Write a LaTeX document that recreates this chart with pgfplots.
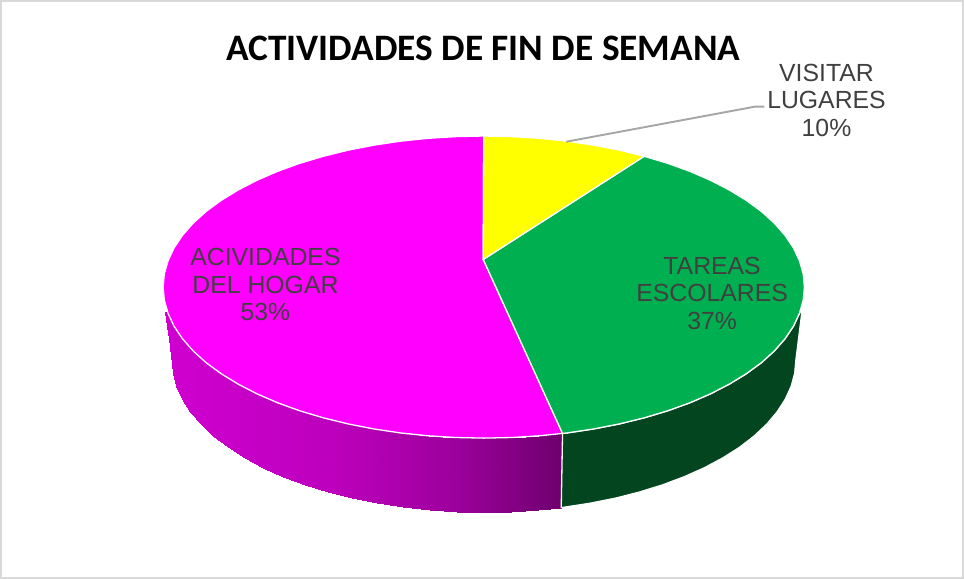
\documentclass[border=0pt]{standalone}
\usepackage{pgfplots}
\pgfplotsset{compat=1.18}
\usepackage{fontspec}
\setmainfont{Liberation Sans}
\newfontfamily\titlefont{Carlito}
\definecolor{lab}{HTML}{404040}
\definecolor{pgreen}{HTML}{00B050}
\definecolor{dgreen}{HTML}{02451F}
\definecolor{pmag}{HTML}{FF00FF}
\definecolor{pyel}{HTML}{FFFF00}
\begin{document}
\begin{tikzpicture}
\begin{axis}[
  scale only axis, width=964pt, height=580pt,
  xmin=-0.8, xmax=963.2, ymin=-1.5, ymax=578.5, zmin=-1, zmax=1,
  y dir=reverse, view={0}{90}, hide axis, clip=false,
  point meta min=166, point meta max=563,
  colormap={sidemag}{rgb255(0)=(208,0,208) rgb255(170)=(188,0,188) rgb255(290)=(156,0,156) rgb255(397)=(110,0,110)},
]
% outer frame
\addplot[draw=black!15, line width=2pt] coordinates {(3.5,2.5) (962,2.5) (962,577) (3.5,577)} --cycle;
% side of the magenta slice
\addplot3[surf, shader=interp, mesh/rows=2, point meta=x] coordinates {
(166.5,312,0) (167.5,312.5,0) (169.9,313.6,0) (175.9,326.5,0) (184.3,339,0) (194.9,351.1,0) (207.8,362.8,0) (222.8,373.8,0) (239.8,384.2,0) (258.6,393.9,0) (279.1,402.8,0) (301.2,410.8,0) (324.7,417.8,0) (349.5,423.9,0) (375.2,428.9,0) (401.8,432.9,0) (429,435.7,0) (456.6,437.4,0) (484.5,438,0) (512.4,437.4,0) (540,435.7,0) (563,433.3,0)
(173.5,360,0) (174.7,373.3,0) (178.2,386.4,0) (184.1,399.3,0) (192.3,412,0) (202.6,424.2,0) (215.2,436,0) (229.7,447.2,0) (246.3,457.7,0) (264.6,467.5,0) (284.6,476.4,0) (306.1,484.5,0) (329,491.6,0) (353.1,497.8,0) (378.1,502.8,0) (404,506.8,0) (430.5,509.7,0) (457.4,511.4,0) (484.5,512,0) (511.6,511.4,0) (538.5,509.7,0) (561.7,507.2,0)
};
% side of the green slice
\addplot[fill=dgreen, draw=white, line width=1.3pt] coordinates {
(563,433.3) (567.2,432.9) (593.8,428.9) (619.5,423.9) (644.3,417.8) (667.8,410.8) (689.9,402.8) (710.4,393.9) (729.2,384.2) (746.2,373.8) (761.2,362.8) (774.1,351.1) (784.7,339) (793.1,326.5) (799.1,313.6) (802,308)
(795.5,360) (794.3,373.3) (790.8,386.4) (784.9,399.3) (776.7,412) (766.4,424.2) (753.8,436) (739.3,447.2) (722.7,457.7) (704.4,467.5) (684.4,476.4) (662.9,484.5) (640,491.6) (615.9,497.8) (590.9,502.8) (565,506.8) (561.7,507.2)
} --cycle;
% top: magenta slice (53%)
\addplot[fill=pmag, draw=white, line width=1.3pt] coordinates {
(484,260) (563,433.3) (540,435.7) (512.4,437.4) (484.5,438) (456.6,437.4) (429,435.7) (401.8,432.9) (375.2,428.9) (349.5,423.9) (324.7,417.8) (301.2,410.8) (279.1,402.8) (258.6,393.9) (239.8,384.2) (222.8,373.8) (207.8,362.8) (194.9,351.1) (184.3,339) (175.9,326.5) (169.9,313.6) (166.2,300.6) (165,287.5) (166.2,274.4) (169.9,261.4) (175.9,248.5) (184.3,236) (194.9,223.9) (207.8,212.2) (222.8,201.2) (239.8,190.8) (258.6,181.1) (279.1,172.2) (301.2,164.2) (324.7,157.2) (349.5,151.1) (375.2,146.1) (401.8,142.1) (429,139.3) (456.6,137.6) (484.5,137)
} --cycle;
% top: green slice (37%)
\addplot[fill=pgreen, draw=white, line width=1.3pt] coordinates {
(484,260) (644.3,157.2) (667.8,164.2) (689.9,172.2) (710.4,181.1) (729.2,190.8) (746.2,201.2) (761.2,212.2) (774.1,223.9) (784.7,236) (793.1,248.5) (799.1,261.4) (802.8,274.4) (804,287.5) (802.8,300.6) (799.1,313.6) (793.1,326.5) (784.7,339) (774.1,351.1) (761.2,362.8) (746.2,373.8) (729.2,384.2) (710.4,393.9) (689.9,402.8) (667.8,410.8) (644.3,417.8) (619.5,423.9) (593.8,428.9) (567.2,432.9) (563,433.3)
} --cycle;
% top: yellow slice (10%)
\addplot[fill=pyel, draw=white, line width=1.3pt] coordinates {
(484,260) (484.5,137) (512.4,137.6) (540,139.3) (567.2,142.1) (593.8,146.1) (619.5,151.1) (644.3,157.2)
} --cycle;
% leader line
\addplot[draw=black!35, line width=1.9pt] coordinates {(566.7,142.7) (755,107.7) (764,107.7)};
% text
\node[text=black, font=\titlefont\bfseries\fontsize{37.2}{44}\selectfont] at (axis cs:484,50) {ACTIVIDADES DE FIN DE SEMANA};
\node[text=lab, align=center, font=\fontsize{24.7}{27.5}\selectfont] at (axis cs:826,101.5) {VISITAR\\LUGARES\\10\%};
\node[text=lab, align=center, font=\fontsize{24.7}{27.5}\selectfont] at (axis cs:712,293.5) {TAREAS\\ESCOLARES\\37\%};
\node[text=lab, align=center, font=\fontsize{24.7}{27.5}\selectfont] at (axis cs:267,285) {ACIVIDADES\\DEL HOGAR\\53\%};
\end{axis}
\end{tikzpicture}
\end{document}
